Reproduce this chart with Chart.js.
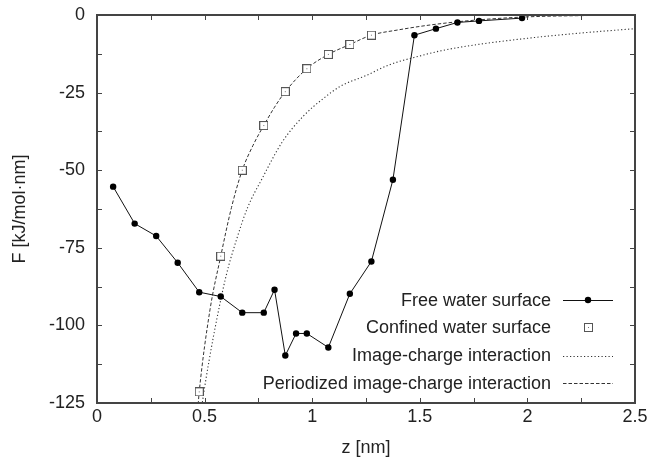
<!DOCTYPE html>
<html>
<head>
<meta charset="utf-8">
<script src="https://cdn.jsdelivr.net/npm/chart.js@4.4.1/dist/chart.umd.min.js"></script>
<style>
  html, body { margin: 0; padding: 0; background: #fff; }
  #wrap { width: 651px; height: 457px; }
</style>
</head>
<body>
<div id="wrap"><canvas id="fplot" width="651" height="457"></canvas></div>
<script>
// free water surface (points joined by a line)
const freeZ = [0.075, 0.175, 0.275, 0.375, 0.475, 0.575, 0.675, 0.775, 0.825, 0.875, 0.925, 0.975, 1.075, 1.175, 1.275, 1.375, 1.475, 1.575, 1.675, 1.775, 1.975];
const freeF = [-55.3, -67.2, -71.2, -79.8, -89.3, -90.7, -95.9, -95.9, -88.5, -109.7, -102.6, -102.6, -107.1, -89.8, -79.4, -53.1, -6.5, -4.4, -2.4, -1.9, -1.0];

// confined water surface (squares only)
const confinedZ = [0.475, 0.575, 0.675, 0.775, 0.875, 0.975, 1.075, 1.175, 1.275];
const confinedF = [-121.4, -77.7, -50.0, -35.6, -24.7, -17.3, -12.7, -9.5, -6.5];

// image-charge interaction curve
const imageZ = [0.485, 0.50, 0.54, 0.60, 0.65, 0.70, 0.765, 0.86, 0.96, 1.05, 1.13, 1.25, 1.36, 1.50, 1.60, 1.75, 2.00, 2.25, 2.50];
const imageF = [-127, -120, -104, -84, -72, -62, -53, -41, -32.5, -27, -23, -19.5, -16, -13.2, -11.5, -9.7, -7.5, -5.8, -4.4];

// periodized image-charge interaction curve
const periodZ = [0.470, 0.475, 0.525, 0.575, 0.625, 0.675, 0.725, 0.775, 0.825, 0.875, 0.975, 1.075, 1.175, 1.275, 1.40, 1.55, 1.75, 2.00, 2.25, 2.50];
const periodF = [-125.5, -121.4, -95, -77.7, -62, -50, -42, -35.6, -29.7, -24.7, -17.3, -12.7, -9.5, -6.5, -4.8, -3.2, -1.7, -0.6, -0.2, 0];

const seriesNames = ['Free water surface', 'Confined water surface', 'Image-charge interaction', 'Periodized image-charge interaction'];
const xTickLabels = ['0', '0.5', '1', '1.5', '2', '2.5'];
const yTickLabels = ['-125', '-100', '-75', '-50', '-25', '0'];

const FONT = "'Liberation Sans', Arial, Helvetica, sans-serif";
const INK = '#222';
const FRAME = '#444';

function pts(xs, ys) {
    return xs.map(function (x, i) { return { x: x, y: ys[i] }; });
}

// small open square with a dot in the middle
function makeSquare() {
    const c = document.createElement('canvas');
    c.width = 9; c.height = 9;
    const g = c.getContext('2d');
    g.fillStyle = '#fff';
    g.fillRect(0, 0, 9, 9);
    g.strokeStyle = '#555';
    g.lineWidth = 1;
    g.strokeRect(0.5, 0.5, 8, 8);
    g.fillStyle = '#777';
    g.fillRect(4, 4, 1, 1);
    return c;
}
const squareImg = makeSquare();

// ticks pointing inwards on all four sides, plus the frame
const frameTicks = {
    id: 'frameTicks',
    afterDraw(chart) {
        const ctx = chart.ctx;
        const a = chart.chartArea;
        const xs = chart.scales.x, ys = chart.scales.y;
        const len = 5;
        ctx.save();
        ctx.strokeStyle = FRAME;
        ctx.lineWidth = 1;
        ctx.beginPath();
        xs.ticks.forEach(function (t) {
            const px = Math.round(xs.getPixelForValue(t.value)) + 0.5;
            ctx.moveTo(px, a.bottom); ctx.lineTo(px, a.bottom - len);
            ctx.moveTo(px, a.top); ctx.lineTo(px, a.top + len);
        });
        ys.ticks.forEach(function (t) {
            const py = Math.round(ys.getPixelForValue(t.value)) + 0.5;
            ctx.moveTo(a.left, py); ctx.lineTo(a.left + len, py);
            ctx.moveTo(a.right, py); ctx.lineTo(a.right - len, py);
        });
        ctx.stroke();
        ctx.lineWidth = 2;
        ctx.strokeRect(a.left, a.top, a.right - a.left, a.bottom - a.top);
        ctx.restore();
    }
};

// legend inside the plot, text right-aligned with the sample on its right
const insideLegend = {
    id: 'insideLegend',
    afterDatasetsDraw(chart) {
        const ctx = chart.ctx;
        const textRight = 551;
        const sx0 = 563, sx1 = 613;
        const rows = [300, 327.5, 355.5, 383];
        ctx.save();
        ctx.font = '18px ' + FONT;
        ctx.fillStyle = INK;
        ctx.textAlign = 'right';
        ctx.textBaseline = 'middle';
        chart.data.datasets.forEach(function (ds, i) {
            const y = rows[i];
            ctx.fillText(ds.label, textRight, y + 1);
            if (ds.showLine) {
                ctx.save();
                ctx.strokeStyle = ds.borderColor;
                ctx.lineWidth = ds.borderWidth;
                ctx.setLineDash(ds.borderDash || []);
                ctx.beginPath();
                ctx.moveTo(sx0, Math.round(y) + 0.5);
                ctx.lineTo(sx1, Math.round(y) + 0.5);
                ctx.stroke();
                ctx.restore();
            }
            if (ds.pointRadius > 0) {
                const mx = (sx0 + sx1) / 2;
                if (ds.pointStyle === squareImg) {
                    ctx.drawImage(squareImg, Math.round(mx - 4.5), Math.round(y - 4.5));
                } else {
                    ctx.beginPath();
                    ctx.fillStyle = ds.pointBackgroundColor;
                    ctx.arc(mx, y, ds.pointRadius, 0, Math.PI * 2);
                    ctx.fill();
                    ctx.fillStyle = INK;
                }
            }
        });
        ctx.restore();
    }
};

const data = {
    datasets: [
        {
            label: seriesNames[0],
            data: pts(freeZ, freeF),
            showLine: true,
            borderColor: '#111',
            borderWidth: 1,
            pointRadius: 3.2,
            pointBackgroundColor: '#000',
            pointBorderColor: '#000',
            pointBorderWidth: 0,
            tension: 0
        },
        {
            label: seriesNames[1],
            data: pts(confinedZ, confinedF),
            showLine: false,
            pointStyle: squareImg,
            pointRadius: 4.5
        },
        {
            label: seriesNames[2],
            data: pts(imageZ, imageF),
            showLine: true,
            borderColor: '#333',
            borderWidth: 1.1,
            borderDash: [1.2, 2.3],
            pointRadius: 0,
            cubicInterpolationMode: 'monotone'
        },
        {
            label: seriesNames[3],
            data: pts(periodZ, periodF),
            showLine: true,
            borderColor: '#333',
            borderWidth: 1,
            borderDash: [3.5, 2],
            pointRadius: 0,
            cubicInterpolationMode: 'monotone'
        }
    ]
};

var config = {
    type: 'scatter',
    data: data,
    plugins: [frameTicks, insideLegend],
    options: {
        responsive: false,
        animation: false,
        events: [],
        layout: { padding: { left: 0, right: 16, top: 15, bottom: 0 } },
        plugins: {
            legend: { display: false },
            tooltip: { enabled: false }
        },
        scales: {
            x: {
                type: 'linear',
                min: 0,
                max: 2.5,
                afterFit: function (s) {
                    s.height = 54;
                    s.paddingLeft = 0;
                    s.paddingRight = 0;
                },
                grid: { display: false, drawTicks: false },
                border: { display: false },
                ticks: {
                    stepSize: 0.25,
                    autoSkip: false,
                    maxRotation: 0,
                    padding: 3,
                    color: INK,
                    font: { family: FONT, size: 18 },
                    callback: function (v) {
                        const k = Math.round(v / 0.5);
                        return Math.abs(v - k * 0.5) < 1e-6 ? xTickLabels[k] : '';
                    }
                },
                title: {
                    display: true,
                    text: 'z [nm]',
                    color: INK,
                    font: { family: FONT, size: 18, lineHeight: 1.0 },
                    padding: { top: 0, bottom: 0 }
                }
            },
            y: {
                type: 'linear',
                min: -125,
                max: 0,
                afterFit: function (s) {
                    s.width = 97;
                    s.paddingTop = 0;
                    s.paddingBottom = 0;
                },
                grid: { display: false, drawTicks: false },
                border: { display: false },
                ticks: {
                    stepSize: 12.5,
                    autoSkip: false,
                    padding: 12,
                    color: INK,
                    font: { family: FONT, size: 18 },
                    callback: function (v) {
                        const k = Math.round((v + 125) / 25);
                        return Math.abs(v + 125 - k * 25) < 1e-6 ? yTickLabels[k] : '';
                    }
                },
                title: {
                    display: true,
                    text: 'F [kJ/mol·nm]',
                    color: INK,
                    font: { family: FONT, size: 18, lineHeight: 1.0 },
                    padding: { top: 11, bottom: 0 }
                }
            }
        }
    }
};

const myChart = new Chart(document.getElementById('fplot'), config);
</script>
</body>
</html>
